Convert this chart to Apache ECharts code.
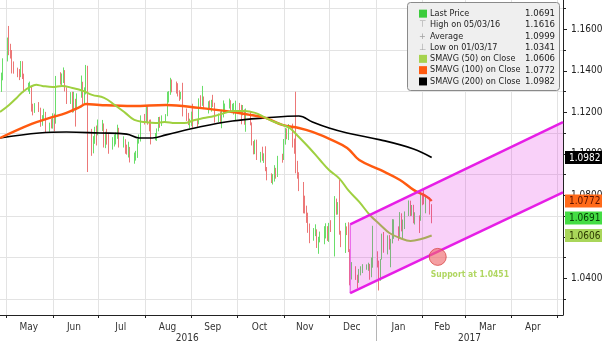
<!DOCTYPE html>
<html><head><meta charset="utf-8">
<script src="https://cdn.jsdelivr.net/npm/echarts@6/dist/echarts.min.js"></script>
<style>html,body{margin:0;padding:0;background:#fff}#c{width:602px;height:341px}</style>
</head><body><div id="c"></div>
<script>
// ---------- DATA ----------
const firstDay = '2016-04-27', lastDay = '2017-02-07';
const firstOpen = 1.1300;
// daily closes (weekdays), grouped by week
const closes = [
 1.1346,1.1357,1.1454,
 1.1546,1.1497,1.1491,1.1404,1.1403,
 1.1385,1.1377,1.1430,1.1371,1.1309,
 1.1315,1.1316,1.1217,1.1203,1.1225,
 1.1219,1.1140,1.1179,1.1191,1.1115,
 1.1136,1.1134,1.1189,1.1151,1.1366,
 1.1355,1.1356,1.1396,1.1314,1.1254,
 1.1289,1.1211,1.1258,1.1224,1.1278,
 1.1316,1.1253,1.1296,1.1382,1.1115,
 1.1021,1.1069,1.1124,1.1103,1.1136,
 1.1136,1.1071,1.1095,1.1057,1.1052,
 1.1053,1.1063,1.1089,1.1121,1.1037,
 1.1067,1.1024,1.1019,1.1025,1.0976,
 1.0993,1.0995,1.1059,1.1074,1.1173,
 1.1166,1.1222,1.1150,1.1130,1.1087,
 1.1090,1.1117,1.1172,1.1136,1.1163,
 1.1183,1.1289,1.1290,1.1353,1.1324,
 1.1319,1.1306,1.1265,1.1288,1.1197,
 1.1193,1.1146,1.1157,1.1196,1.1157,
 1.1150,1.1257,1.1236,1.1263,1.1233,
 1.1240,1.1221,1.1245,1.1241,1.1154,
 1.1174,1.1154,1.1187,1.1208,1.1226,
 1.1253,1.1215,1.1216,1.1222,1.1240,
 1.1210,1.1206,1.1207,1.1150,1.1200,
 1.1145,1.1055,1.1003,1.1058,1.0973,
 1.1000,1.0973,1.0973,1.0928,1.0890,
 1.0880,1.0880,1.0915,1.0897,1.0988,
 1.0979,1.1054,1.1097,1.1094,1.1141,
 1.1039,1.1025,1.0912,1.0896,1.0852,
 1.0735,1.0727,1.0693,1.0626,1.0588,
 1.0629,1.0631,1.0556,1.0585,1.0587,
 1.0615,1.0644,1.0589,1.0664,1.0663,
 1.0761,1.0720,1.0755,1.0617,1.0561,
 1.0633,1.0623,1.0535,1.0415,1.0448,
 1.0401,1.0391,1.0426,1.0437,1.0453,
 1.0456,1.0458,1.0409,1.0492,1.0517,
 1.0461,1.0404,1.0491,1.0606,1.0532,
 1.0575,1.0554,1.0580,1.0615,1.0647,
 1.0603,1.0707,1.0634,1.0662,1.0704,
 1.0757,1.0730,1.0747,1.0679,1.0698,
 1.0691,1.0798,1.0765,1.0763,1.0784,
 1.0748,1.0691
];
const highs = [
 1.1347,1.1391,1.1460,
 1.1560,1.1616,1.1530,1.1500,1.1445,
 1.1415,1.1408,1.1447,1.1446,1.1386,
 1.1342,1.1348,1.1327,1.1241,1.1244,
 1.1249,1.1222,1.1186,1.1217,1.1202,
 1.1150,1.1170,1.1195,1.1193,1.1375,
 1.1393,1.1387,1.1416,1.1403,1.1320,
 1.1297,1.1299,1.1299,1.1265,1.1291,
 1.1377,1.1347,1.1320,1.1428,1.1424,
 1.1120,1.1085,1.1130,1.1136,1.1165,
 1.1163,1.1146,1.1106,1.1120,1.1095,
 1.1080,1.1093,1.1102,1.1140,1.1125,
 1.1084,1.1070,1.1044,1.1058,1.1033,
 1.1006,1.1014,1.1072,1.1093,1.1185,
 1.1192,1.1234,1.1229,1.1164,1.1165,
 1.1100,1.1122,1.1177,1.1178,1.1185,
 1.1191,1.1299,1.1302,1.1366,1.1358,
 1.1348,1.1340,1.1306,1.1298,1.1342,
 1.1218,1.1197,1.1169,1.1203,1.1241,
 1.1168,1.1267,1.1282,1.1327,1.1276,
 1.1253,1.1257,1.1260,1.1284,1.1246,
 1.1194,1.1204,1.1212,1.1257,1.1242,
 1.1266,1.1258,1.1241,1.1245,1.1256,
 1.1245,1.1236,1.1235,1.1214,1.1218,
 1.1204,1.1151,1.1061,1.1068,1.1068,
 1.1009,1.1034,1.1002,1.1036,1.0936,
 1.0906,1.0902,1.0945,1.0932,1.0990,
 1.1000,1.1071,1.1124,1.1122,1.1143,
 1.1145,1.1073,1.1299,1.0966,1.0911,
 1.0864,1.0798,1.0750,1.0716,1.0664,
 1.0642,1.0660,1.0636,1.0600,1.0625,
 1.0651,1.0665,1.0651,1.0667,1.0680,
 1.0796,1.0784,1.0767,1.0874,1.0629,
 1.0667,1.0650,1.0670,1.0540,1.0478,
 1.0458,1.0417,1.0445,1.0458,1.0468,
 1.0467,1.0475,1.0469,1.0500,1.0653,
 1.0530,1.0485,1.0493,1.0615,1.0623,
 1.0607,1.0608,1.0590,1.0685,1.0684,
 1.0650,1.0719,1.0713,1.0683,1.0722,
 1.0775,1.0774,1.0753,1.0754,1.0718,
 1.0703,1.0811,1.0807,1.0829,1.0796,
 1.0790,1.0757
];
const lows = [
 1.1274,1.1298,1.1354,
 1.1445,1.1475,1.1459,1.1387,1.1386,
 1.1369,1.1355,1.1369,1.1360,1.1296,
 1.1300,1.1288,1.1203,1.1185,1.1197,
 1.1201,1.1130,1.1135,1.1160,1.1100,
 1.1106,1.1122,1.1121,1.1108,1.1145,
 1.1333,1.1329,1.1341,1.1300,1.1240,
 1.1240,1.1198,1.1200,1.1131,1.1210,
 1.1270,1.1239,1.1240,1.1286,1.0912,
 1.0990,1.1002,1.1048,1.1040,1.1089,
 1.1110,1.1030,1.1027,1.1044,1.1000,
 1.1020,1.1035,1.1045,1.1072,1.1030,
 1.1030,1.1000,1.0996,1.0982,1.0958,
 1.0952,1.0967,1.0980,1.1049,1.1059,
 1.1141,1.1150,1.1140,1.1108,1.1045,
 1.1065,1.1062,1.1108,1.1125,1.1134,
 1.1152,1.1181,1.1247,1.1284,1.1296,
 1.1290,1.1276,1.1255,1.1262,1.1180,
 1.1158,1.1138,1.1123,1.1134,1.1125,
 1.1130,1.1142,1.1220,1.1231,1.1215,
 1.1194,1.1214,1.1203,1.1225,1.1150,
 1.1153,1.1145,1.1123,1.1175,1.1193,
 1.1218,1.1204,1.1200,1.1189,1.1160,
 1.1196,1.1142,1.1185,1.1140,1.1106,
 1.1137,1.1040,1.0997,1.0998,1.0970,
 1.0958,1.0966,1.0956,1.0916,1.0872,
 1.0859,1.0852,1.0866,1.0880,1.0888,
 1.0957,1.0970,1.1044,1.1070,1.1066,
 1.1030,1.1000,1.0906,1.0880,1.0820,
 1.0713,1.0712,1.0667,1.0619,1.0569,
 1.0581,1.0603,1.0546,1.0518,1.0573,
 1.0564,1.0592,1.0580,1.0575,1.0623,
 1.0505,1.0706,1.0707,1.0610,1.0550,
 1.0522,1.0608,1.0526,1.0366,1.0394,
 1.0392,1.0352,1.0378,1.0414,1.0425,
 1.0441,1.0436,1.0393,1.0405,1.0451,
 1.0452,1.0341,1.0388,1.0490,1.0523,
 1.0515,1.0538,1.0453,1.0568,1.0590,
 1.0581,1.0590,1.0626,1.0587,1.0637,
 1.0700,1.0700,1.0701,1.0665,1.0659,
 1.0618,1.0677,1.0752,1.0756,1.0713,
 1.0707,1.0665
];
// moving averages
const sma50Dates = ['2016-04-27','2016-05-03','2016-05-08','2016-05-12','2016-05-17','2016-05-21','2016-05-25','2016-06-01','2016-06-07','2016-06-14','2016-06-21','2016-06-27','2016-07-05','2016-07-12','2016-07-19','2016-07-25','2016-08-01','2016-08-08','2016-08-14','2016-08-21','2016-08-27','2016-09-03','2016-09-09','2016-09-16','2016-09-23','2016-09-29','2016-10-06','2016-10-13','2016-10-19','2016-10-26','2016-11-02','2016-11-05','2016-11-11','2016-11-18','2016-11-25','2016-12-01','2016-12-08','2016-12-14','2016-12-21','2016-12-28','2017-01-04','2017-01-10','2017-01-17','2017-01-24','2017-01-31','2017-02-07'];
const sma50Values = [1.1201,1.1235,1.1269,1.1298,1.1322,1.1332,1.1327,1.1322,1.1327,1.1317,1.1303,1.1284,1.1269,1.1235,1.1197,1.1163,1.1153,1.1148,1.1153,1.1148,1.1148,1.1163,1.1172,1.1182,1.1197,1.1206,1.1206,1.1197,1.1177,1.1153,1.1134,1.1124,1.1081,1.1028,1.0970,1.0922,1.0879,1.0822,1.0768,1.0705,1.0657,1.0618,1.0594,1.0580,1.0589,1.0606];
const sma100Dates = ['2016-04-27','2016-05-18','2016-05-30','2016-06-10','2016-06-19','2016-06-23','2016-07-02','2016-07-24','2016-08-15','2016-09-06','2016-09-28','2016-10-10','2016-10-20','2016-10-31','2016-11-11','2016-11-20','2016-12-03','2016-12-13','2016-12-21','2017-01-04','2017-01-17','2017-01-26','2017-02-04','2017-02-07'];
const sma100Values = [1.1076,1.1144,1.1173,1.1197,1.1226,1.1240,1.1235,1.1230,1.1235,1.1221,1.1201,1.1187,1.1173,1.1139,1.1124,1.1105,1.1066,1.1028,1.0970,1.0922,1.0874,1.0826,1.0792,1.0772];
const sma200Dates = ['2016-04-27','2016-05-23','2016-06-10','2016-07-02','2016-07-20','2016-07-28','2016-08-06','2016-08-15','2016-09-06','2016-09-28','2016-10-20','2016-11-11','2016-11-20','2016-12-01','2016-12-13','2017-01-04','2017-01-26','2017-02-07'];
const sma200Values = [1.1076,1.1100,1.1105,1.1100,1.1095,1.1076,1.1076,1.1091,1.1129,1.1158,1.1173,1.1182,1.1153,1.1124,1.1100,1.1067,1.1023,1.0982];
// trend channel
const chanDates = ['2016-12-15','2017-05-05'];
const chanUpper = [1.0660, 1.1152];
const chanLower = [1.0328, 1.0814];
// support marker
const supportDate = '2017-02-11';
const supportValue = 1.0503;
const supportText = 'Support at 1.0451';
// legend
const legendNames = ['Last Price','High on 05/03/16','Average','Low on 01/03/17','SMAVG (50) on Close','SMAVG (100) on Close','SMAVG (200) on Close'];
const legendValues = ['1.0691','1.1616','1.0999','1.0341','1.0606','1.0772','1.0982'];
// axis
const axisStart = '2016-04-27', axisEnd = '2017-05-05';
const monthStarts = ['2016-05-01','2016-06-01','2016-07-01','2016-08-01','2016-09-01','2016-10-01','2016-11-01','2016-12-01','2017-01-01','2017-02-01','2017-03-01','2017-04-01','2017-05-01'];
const monthLabelDates = ['2016-05-16','2016-06-15','2016-07-16','2016-08-16','2016-09-15','2016-10-16','2016-11-15','2016-12-16','2017-01-16','2017-02-14','2017-03-16','2017-04-15'];
const monthNames = ['Jan','Feb','Mar','Apr','May','Jun','Jul','Aug','Sep','Oct','Nov','Dec'];
const yearSplit = ['2017-01-01'];
const yearLabelDates = ['2016-08-29','2017-03-04'];
const yMin = 1.0223, yMax = 1.1741;
const majorTicks = [1.04,1.06,1.08,1.10,1.12,1.14,1.16];
const minorTicks = [1.03,1.05,1.07,1.09,1.11,1.13,1.15,1.17];
const tagValues = [1.0982, 1.0772, 1.0691, 1.0606];

// ---------- BUILD ----------
const FONT = "'Liberation Sans Narrow','DejaVu Sans Condensed','Liberation Sans',Arial,sans-serif";
function ts(s){ const p = s.split('-').map(Number); return new Date(p[0], p[1]-1, p[2]).getTime(); }
const tradeDates = [];
for (let d = new Date(ts(firstDay)); d.getTime() <= ts(lastDay); d.setDate(d.getDate()+1)) {
  if (d.getDay() % 6 !== 0) tradeDates.push(d.getTime());
}
const candleData = tradeDates.map((t, i) => [t, i ? closes[i-1] : firstOpen, closes[i], lows[i], highs[i]]);
const pairs = (ds, vs) => ds.map((d, i) => [ts(d), vs[i]]);

const tagStyle = [
  {backgroundColor:'#000000', color:'#ffffff'},
  {backgroundColor:'#ff6a1a', color:'#5a1200'},
  {backgroundColor:'#44dd44', color:'#064006'},
  {backgroundColor:'#a9d65a', color:'#2c3a00'}
];
const tagRich = {};
tagStyle.forEach((s, i) => { tagRich['k'+i] = Object.assign({fontSize:10, fontFamily:FONT, padding:[2,3,1,4], lineHeight:11}, s); });

const iconKeys = ['sqA','hi','av','lo','sq50','sq100','sq200'];
const iconGlyph = {hi:'\u22A4', av:'+', lo:'\u22A5'};
const legendText = legendNames.map((n, i) => {
  const k = iconKeys[i];
  return '{tr|}{' + k + '|' + (iconGlyph[k] || '') + '}{t|' + n + '}{v|' + legendValues[i] + '}';
}).join('\n');
const sq = c => ({width:8, height:8, backgroundColor:c});
const glyph = {width:8, color:'#a0a0a0', fontSize:9, fontFamily:FONT};

const chart = echarts.init(document.getElementById('c'), null, {renderer:'canvas'});
chart.setOption({
  animation:false,
  backgroundColor:'#ffffff',
  title:{
    left:407, top:2, padding:[6,5,4,5],
    backgroundColor:'#efefef', borderColor:'#8a8a8a', borderWidth:1, borderRadius:3,
    text: legendText,
    textStyle:{fontSize:9, fontWeight:'normal', color:'#222', fontFamily:FONT, lineHeight:11.3,
      rich:{
        tr:{width:7},
        sqA:sq('#3ccc3c'), sq50:sq('#a6d34e'), sq100:sq('#ff5a10'), sq200:sq('#000000'),
        hi:glyph, av:glyph, lo:glyph,
        t:{width:98, padding:[0,0,0,3], fontSize:9, color:'#222', fontFamily:FONT},
        v:{width:27, align:'right', fontSize:9.5, color:'#222', fontFamily:FONT}
      }}
  },
  grid:{left:0, right:39, top:0, bottom:26, containLabel:false, outerBoundsMode:'none'},
  xAxis:[{
    type:'value', min:ts(axisStart), max:ts(axisEnd), scale:true,
    axisLine:{show:true, lineStyle:{color:'#222'}},
    axisTick:{show:true, customValues:monthStarts.map(ts), length:3, lineStyle:{color:'#222'}},
    axisLabel:{customValues:monthLabelDates.map(ts), formatter:v => monthNames[new Date(v).getMonth()],
      fontSize:10, color:'#333', margin:7, fontFamily:FONT},
    splitLine:{show:true, lineStyle:{color:'#e3e3e3', width:1}}
  },{
    type:'value', min:ts(axisStart), max:ts(axisEnd), scale:true, position:'bottom',
    axisLine:{show:false},
    axisTick:{show:true, customValues:yearSplit.map(ts), length:26, lineStyle:{color:'#b5b5b5'}},
    axisLabel:{customValues:yearLabelDates.map(ts), formatter:v => String(new Date(v).getFullYear()),
      fontSize:10, color:'#333', margin:18, fontFamily:FONT},
    splitLine:{show:false}
  }],
  yAxis:[{
    type:'value', position:'right', min:yMin, max:yMax,
    axisLine:{show:true, lineStyle:{color:'#222'}},
    axisTick:{show:true, customValues:majorTicks, length:4, lineStyle:{color:'#222'}},
    axisLabel:{customValues:majorTicks, formatter:v => v.toFixed(4), margin:8, fontSize:10, color:'#222', fontFamily:FONT},
    splitLine:{show:false}
  },{
    type:'value', position:'right', min:yMin, max:yMax,
    axisLine:{show:false},
    axisTick:{show:true, customValues:minorTicks, length:3, lineStyle:{color:'#222'}},
    axisLabel:{show:false},
    splitLine:{show:true, lineStyle:{color:'#e3e3e3', width:1}}
  },{
    type:'value', position:'right', min:yMin, max:yMax,
    axisLine:{show:false}, axisTick:{show:false}, splitLine:{show:false},
    axisLabel:{customValues:tagValues, margin:2,
      formatter:v => { let k = 0, best = 1; tagValues.forEach((t, i) => { if (Math.abs(t - v) < best) { best = Math.abs(t - v); k = i; } }); return '{k' + k + '|' + v.toFixed(4) + '}'; },
      rich:tagRich}
  }],
  series:[{
    name:'Last Price', type:'candlestick', z:2, data:candleData, encode:{x:0, y:[1,2,3,4]},
    barWidth:0.6,
    itemStyle:{color:'#6ade6a', color0:'#ec7878', borderColor:'#6ade6a', borderColor0:'#ec7878', borderWidth:1}
  },{
    name:'SMAVG (200) on Close', type:'line', z:3, data:pairs(sma200Dates, sma200Values), smooth:0.4, showSymbol:false,
    lineStyle:{color:'#000', width:1.7}
  },{
    name:'SMAVG (100) on Close', type:'line', z:3, data:pairs(sma100Dates, sma100Values), smooth:0.4, showSymbol:false,
    lineStyle:{color:'#ff5a10', width:2.4}
  },{
    name:'SMAVG (50) on Close', type:'line', z:3, data:pairs(sma50Dates, sma50Values), smooth:0.4, showSymbol:false,
    lineStyle:{color:'#9fd040', width:2}
  },{
    name:'Channel', type:'custom', z:4, silent:true, encode:{x:0, y:1},
    data:[[ts(chanDates[0]), chanUpper[0]]],
    renderItem:(params, api) => {
      const u0 = api.coord([ts(chanDates[0]), chanUpper[0]]), u1 = api.coord([ts(chanDates[1]), chanUpper[1]]);
      const l0 = api.coord([ts(chanDates[0]), chanLower[0]]), l1 = api.coord([ts(chanDates[1]), chanLower[1]]);
      return {type:'group', children:[
        {type:'polygon', shape:{points:[u0, u1, l1, l0]}, style:{fill:'rgba(220,0,220,0.18)'}},
        {type:'line', shape:{x1:u0[0], y1:u0[1], x2:l0[0], y2:l0[1]}, style:{stroke:'#e23ae2', lineWidth:1}},
        {type:'line', shape:{x1:u0[0], y1:u0[1], x2:u1[0], y2:u1[1]}, style:{stroke:'#e61ee6', lineWidth:2.5}},
        {type:'line', shape:{x1:l0[0], y1:l0[1], x2:l1[0], y2:l1[1]}, style:{stroke:'#e61ee6', lineWidth:2.5}}
      ]};
    }
  },{
    name:'Support', type:'scatter', z:5, data:[[ts(supportDate), supportValue]], symbolSize:17,
    itemStyle:{color:'rgba(240,105,110,0.8)', borderColor:'#d84848', borderWidth:1},
    label:{show:true, formatter:supportText, position:[2, 22], align:'left', verticalAlign:'top',
      color:'#9ccc3a', fontSize:8.5, fontWeight:'bold', fontFamily:FONT}
  }]
});
</script>
</body></html>
